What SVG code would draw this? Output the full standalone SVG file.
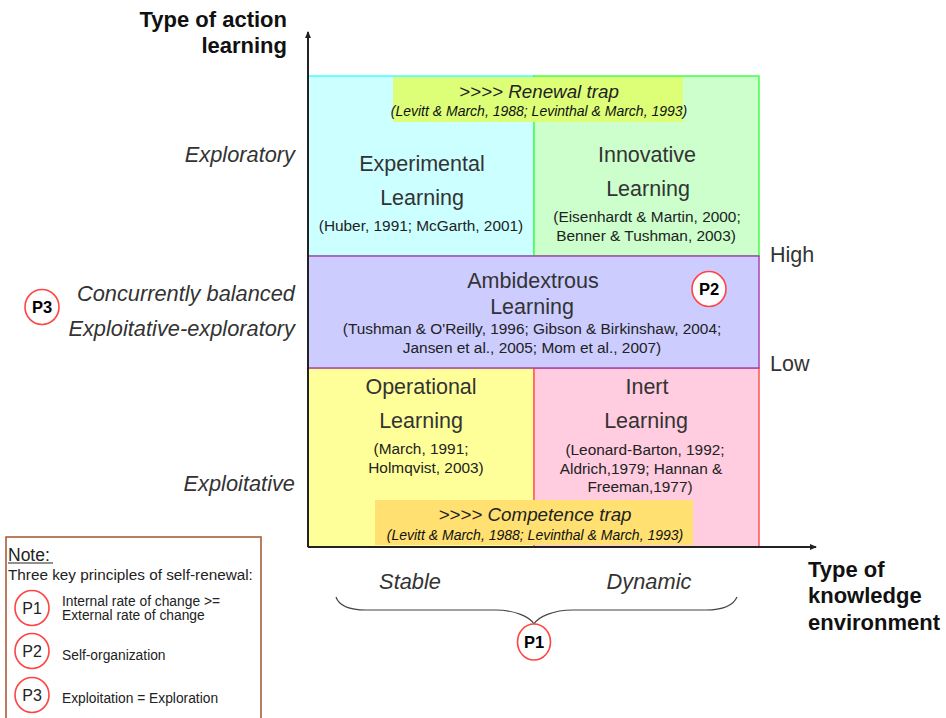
<svg xmlns="http://www.w3.org/2000/svg" width="946" height="718" viewBox="0 0 946 718">
<style>
text{font-family:"Liberation Sans",Arial,sans-serif;fill:#222;text-anchor:middle}
.t{font-size:21.5px;fill:#333}
.r{font-size:15.4px}
.i{font-size:21.8px;font-style:italic;fill:#333}
.e{text-anchor:end}
.b{font-size:22px;font-weight:bold;fill:#111}
.s{text-anchor:start}
.c{font-size:14px;font-style:italic;fill:#111}
.h{font-size:18.8px;font-style:italic}
.n{font-size:13.8px;text-anchor:start}
.ring{fill:#fff;stroke:#f44;stroke-width:1.6}
.p{font-size:16.5px;font-weight:bold;fill:#000}
.q{font-size:16px;fill:#222}
.ax{fill:none;stroke:#222;stroke-width:2}
</style>
<defs>
<marker id="ah" markerWidth="8" markerHeight="8" refX="6" refY="3" orient="auto" markerUnits="userSpaceOnUse"><path d="M0 0L7 3L0 6Z" fill="#222"/></marker>
</defs>
<rect width="946" height="718" fill="#fff"/>
<g id="cell-experimental">
<rect x="308" y="76" width="226" height="180" fill="#ccffff" stroke="#4ff" stroke-width="1.5"/>
</g>
<g id="cell-innovative">
<rect x="534" y="76" width="225" height="180" fill="#ccffcc" stroke="#4f4" stroke-width="1.5"/>
</g>
<g id="cell-operational">
<rect x="308" y="368" width="226" height="179" fill="#ffff99" stroke="#fa4" stroke-width="1.5"/>
</g>
<g id="cell-inert">
<rect x="534" y="368" width="225" height="179" fill="#ffcce0" stroke="#f55" stroke-width="1.5"/>
</g>
<g id="cell-ambidextrous">
<rect x="308" y="256" width="451" height="112" fill="#ccccff" stroke="#a4a" stroke-width="1.5"/>
</g>
<g id="renewal-trap">
<rect x="393" y="77" width="290" height="45" fill="#ddff77"/>
<text x="539" y="98" class="h">&gt;&gt;&gt;&gt; Renewal trap</text>
<text x="539" y="116" class="c">(Levitt &amp; March, 1988; Levinthal &amp; March, 1993)</text>
</g>
<g id="competence-trap">
<rect x="375" y="500" width="318" height="45" fill="#ffe070"/>
<text x="535" y="521" class="h">&gt;&gt;&gt;&gt; Competence trap</text>
<text x="535" y="540" class="c">(Levitt &amp; March, 1988; Levinthal &amp; March, 1993)</text>
</g>
<g id="experimental-text">
<text x="422" y="171" class="t">Experimental</text>
<text x="422" y="205" class="t">Learning</text>
<text x="421" y="231" class="r">(Huber, 1991; McGarth, 2001)</text>
</g>
<g id="innovative-text">
<text x="647" y="162" class="t">Innovative</text>
<text x="648" y="196" class="t">Learning</text>
<text x="647" y="222" class="r">(Eisenhardt &amp; Martin, 2000;</text>
<text x="646" y="241" class="r">Benner &amp; Tushman, 2003)</text>
</g>
<g id="ambidextrous-text">
<text x="533" y="288" class="t">Ambidextrous</text>
<text x="532" y="314" class="t">Learning</text>
<text x="532" y="334" class="r">(Tushman &amp; O'Reilly, 1996; Gibson &amp; Birkinshaw, 2004;</text>
<text x="532" y="353" class="r">Jansen et al., 2005; Mom et al., 2007)</text>
</g>
<g id="operational-text">
<text x="421" y="394" class="t">Operational</text>
<text x="421" y="428" class="t">Learning</text>
<text x="421" y="454" class="r">(March, 1991;</text>
<text x="426" y="473" class="r">Holmqvist, 2003)</text>
</g>
<g id="inert-text">
<text x="647" y="394" class="t">Inert</text>
<text x="646" y="428" class="t">Learning</text>
<text x="645" y="455" class="r">(Leonard-Barton, 1992;</text>
<text x="641" y="474" class="r">Aldrich,1979; Hannan &amp;</text>
<text x="640" y="492" class="r">Freeman,1977)</text>
</g>
<g id="connectors">
<path class="ax" d="M308 547V32" marker-end="url(#ah)"/>
<path class="ax" d="M308 547H816" marker-end="url(#ah)"/>
<path d="M336 597C339 606 350 610 366 610H495C515 610 530 617 534 624C538 617 553 610 573 610H706C722 610 733 606 737 597" fill="none" stroke="#444" stroke-width="1.2"/>
</g>
<g id="axis-labels">
<text x="287" y="27" class="b e">Type of action</text>
<text x="287" y="53" class="b e">learning</text>
<text x="808" y="577" class="b s">Type of</text>
<text x="808" y="603" class="b s">knowledge</text>
<text x="808" y="630" class="b s">environment</text>
<text x="295" y="162" class="i e">Exploratory</text>
<text x="295" y="301" class="i e">Concurrently balanced</text>
<text x="295" y="336" class="i e">Exploitative-exploratory</text>
<text x="295" y="491" class="i e">Exploitative</text>
<text x="410" y="589" class="i">Stable</text>
<text x="649" y="589" class="i">Dynamic</text>
<text x="770" y="262" class="t s">High</text>
<text x="770" y="371" class="t s">Low</text>
</g>
<g id="badge-p1">
<ellipse cx="534" cy="642" rx="16.5" ry="18" class="ring"/>
<text x="534" y="648" class="p">P1</text>
</g>
<g id="badge-p2">
<ellipse cx="709" cy="289" rx="17" ry="17.5" class="ring"/>
<text x="709" y="295" class="p">P2</text>
</g>
<g id="badge-p3">
<ellipse cx="42" cy="307" rx="17" ry="17.5" class="ring"/>
<text x="42" y="313" class="p">P3</text>
</g>
<g id="note">
<path d="M6 718V537H261V718" fill="#fff" stroke="#a5522d" stroke-width="1.5"/>
<text x="8" y="561" class="s" style="font-size:17.5px">Note:</text>
<path d="M8 563H53" stroke="#222" stroke-width="1"/>
<text x="8" y="580" class="s" style="font-size:15.3px">Three key principles of self-renewal:</text>
<ellipse cx="32" cy="608" rx="17" ry="17.5" class="ring"/>
<text x="32" y="614" class="q">P1</text>
<ellipse cx="32" cy="651" rx="17" ry="17.5" class="ring"/>
<text x="32" y="657" class="q">P2</text>
<ellipse cx="32" cy="695" rx="17" ry="17.5" class="ring"/>
<text x="32" y="701" class="q">P3</text>
<text x="62" y="606" class="n">Internal rate of change &gt;=</text>
<text x="62" y="620" class="n">External rate of change</text>
<text x="62" y="660" class="n">Self-organization</text>
<text x="62" y="703" class="n">Exploitation = Exploration</text>
</g>
</svg>
